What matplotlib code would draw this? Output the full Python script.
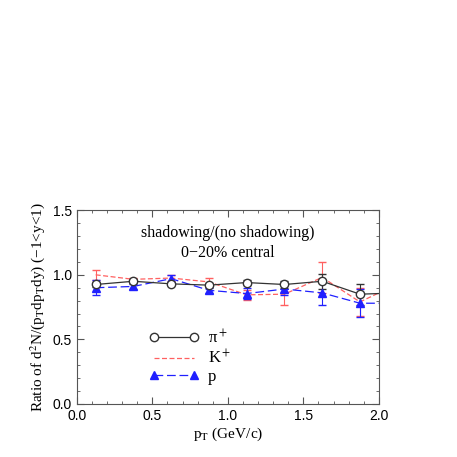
import matplotlib
matplotlib.use('Agg')
from matplotlib import pyplot
from matplotlib.lines import Line2D
import matplotlib.ticker as plt

pyplot.rcParams['mathtext.fontset'] = 'stix'

pt = [0.125, 0.375, 0.625, 0.875, 1.125, 1.375, 1.625, 1.875, 2.125]

pion = [0.925, 0.95, 0.93, 0.92, 0.94, 0.925, 0.95, 0.85, 0.86]
pion_err = [0.02, 0.015, 0.01, 0.015, 0.02, 0.03, 0.06, 0.08, 0.08]

kaon = [1.0, 0.965, 0.975, 0.945, 0.845, 0.85, 0.98, 0.79, 0.93]
kaon_err = [0.04, 0.01, 0.02, 0.03, 0.04, 0.08, 0.12, 0.11, 0.11]

proton = [0.90, 0.91, 0.97, 0.88, 0.855, 0.89, 0.86, 0.78, 0.78]
proton_err = [0.06, 0.02, 0.03, 0.02, 0.04, 0.05, 0.09, 0.11, 0.11]

fig = pyplot.figure(figsize=(4.57, 4.57), dpi=100)
ax = fig.add_axes([0.168, 0.116, 0.661, 0.424])

kcol = '#ff6060'
pcol = '#2020ff'
picol = '#333333'
ax.errorbar(pt, kaon, yerr=kaon_err, color=kcol, linestyle=(0, (4, 2)), linewidth=0.9,
            capsize=3, elinewidth=0.8)
ax.errorbar(pt, proton, yerr=proton_err, color=pcol, linestyle=(0, (7, 3)), linewidth=0.9,
            marker='^', markersize=6, capsize=3, elinewidth=0.8)
ax.errorbar(pt, pion, yerr=pion_err, color=picol, linestyle='-', linewidth=0.9,
            marker='o', markersize=6, markerfacecolor='white', capsize=3, elinewidth=0.8)

ax.axis([0.0, 2.0, 0.0, 1.5])
ax.xaxis.set_major_locator(plt.MultipleLocator(0.5))
ax.xaxis.set_minor_locator(plt.MultipleLocator(0.1))
ax.yaxis.set_major_locator(plt.MultipleLocator(0.5))
ax.yaxis.set_minor_locator(plt.MultipleLocator(0.1))
ax.xaxis.set_major_formatter(plt.FormatStrFormatter('%.1f'))
ax.yaxis.set_major_formatter(plt.FormatStrFormatter('%.1f'))
ax.tick_params(which='both', direction='in', top=True, right=True, color='#555555',
               labelsize=10)
ax.tick_params(which='major', length=5)
ax.tick_params(which='minor', length=2.5)
for s in ax.spines.values():
    s.set_color('#555555')
for lab in ax.get_xticklabels() + ax.get_yticklabels():
    lab.set_family('Liberation Sans')

ax.set_xlabel('p$_\\mathrm{T}$ (GeV/c)', family='Liberation Serif', fontsize=11, labelpad=2)
ax.set_ylabel('Ratio of d$^2$N/(p$_\\mathrm{T}$dp$_\\mathrm{T}$dy) (\u22121<y<1)',
              family='Liberation Serif', fontsize=11, labelpad=4)

ax.text(1.0, 1.325, 'shadowing/(no shadowing)', family='Liberation Serif', fontsize=11.5,
        ha='center', va='center')
ax.text(1.0, 1.165, '0\u221220% central', family='Liberation Serif', fontsize=11.5,
        ha='center', va='center')

handles = [
    Line2D([], [], color=picol, linestyle='-', linewidth=0.9, marker='o', markersize=6,
           markerfacecolor='white'),
    Line2D([], [], color=kcol, linestyle=(0, (4, 2)), linewidth=0.9),
    Line2D([], [], color=pcol, linestyle=(0, (7, 3)), linewidth=0.9, marker='^',
           markersize=6),
]
labels = ['\u03c0$^+$', 'K$^+$', 'p']
ax.legend(handles, labels, loc='lower left', bbox_to_anchor=(0.19, 0.02), frameon=False,
          handlelength=3.0, numpoints=2, prop={'family': 'Liberation Serif', 'size': 12},
          labelspacing=0.1, handletextpad=0.5)

fig.savefig('out.png', dpi=100)
